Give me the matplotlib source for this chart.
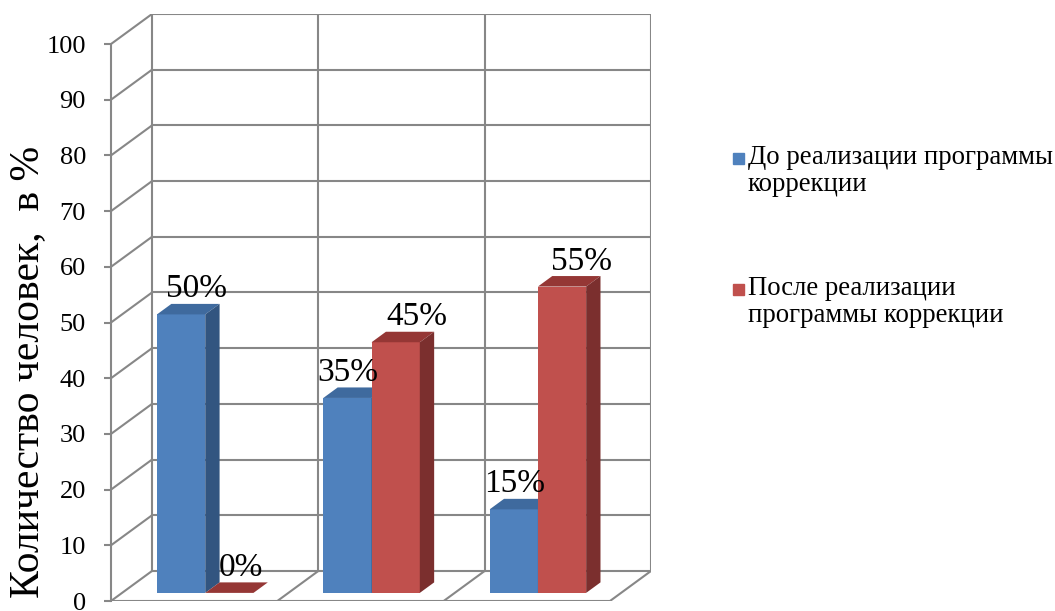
import matplotlib.pyplot as plt
from matplotlib.patches import Polygon, Rectangle

# данные
categories = ['1', '2', '3']
before = [50, 35, 15]
after = [0, 45, 55]
before_labels = ['50%', '35%', '15%']
after_labels = ['0%', '45%', '55%']
yticks = list(range(0, 101, 10))
series_names = ['До реализации программы\nкоррекции',
                'После реализации\nпрограммы коррекции']

plt.rcParams['font.family'] = ['Liberation Serif', 'DejaVu Serif']

# геометрия псевдо-3D (в единицах данных)
DX, DY = 0.2465, 5.39      # глубина стенки
F0, F1 = 0.27, 0.62        # передняя и задняя грань столбца (доля глубины)
W = 0.29                   # ширина столбца
grid_c = '#878787'

blue = ('#4F81BD', '#3F6A9E', '#325580')
red = ('#C0504D', '#953735', '#7B2F2E')

fig = plt.figure(figsize=(10.55, 6.11), dpi=100)
W_px, H_px = 1055, 611
ax = fig.add_axes([111 / W_px, 10 / H_px, 540 / W_px, 587 / H_px])
n = len(categories)
ax.set_xlim(0, n + DX)
ax.set_ylim(0, 100 + DY)

# стенки и сетка
for v in yticks:
    ax.plot([0, DX], [v, v + DY], color=grid_c, lw=1.5, zorder=1)
    ax.plot([DX, n + DX], [v + DY, v + DY], color=grid_c, lw=1.5, zorder=1)
for k in range(n + 1):
    ax.plot([k + DX, k + DX], [DY, 100 + DY], color=grid_c, lw=1.5, zorder=1)
    if k > 0:
        ax.plot([k, k + DX], [0, DY], color=grid_c, lw=1.5, zorder=1)
ax.plot([0, n], [0, 0], color=grid_c, lw=1.5, zorder=1)


def bar3d(x0, v, cols, label, dx_px):
    ax.bar(x0 + F0 * DX, v, width=W, bottom=F0 * DY, align='edge',
           color=cols[0], zorder=3)
    xa, xb = x0 + F0 * DX, x0 + W + F0 * DX
    xc, xd = x0 + F1 * DX, x0 + W + F1 * DX
    y0, y1 = F0 * DY, F1 * DY
    top = Polygon([(xa, v + y0), (xb, v + y0), (xd, v + y1), (xc, v + y1)],
                  closed=True, color=cols[1], lw=0, zorder=3)
    side = Polygon([(xb, y0), (xd, y1), (xd, v + y1), (xb, v + y0)],
                   closed=True, color=cols[2], lw=0, zorder=3)
    ax.add_patch(top)
    ax.add_patch(side)
    ax.annotate(label, (xa + W / 2, v + y0), xytext=(dx_px, 17),
                textcoords='offset pixels', ha='center', va='baseline',
                fontsize=24, zorder=5)


blue_dx = [15, 0, 1]
red_dx = [12, 21, 19]
for i in range(n):
    x0 = i + 0.5 - W
    bar3d(x0, before[i], blue, before_labels[i], blue_dx[i])
    bar3d(x0 + W, after[i], red, after_labels[i], red_dx[i])

# ось Y
for s in ['top', 'right', 'bottom']:
    ax.spines[s].set_visible(False)
ax.spines['left'].set_color(grid_c)
ax.spines['left'].set_linewidth(1.5)
ax.spines['left'].set_bounds(0, 100)
ax.set_yticks(yticks)
ax.set_xticks([])
ax.tick_params(axis='y', length=5, width=1.5, color=grid_c, pad=13,
               labelsize=19)

fig.text(28 / W_px, 1 - 372 / H_px, 'Количество человек,  в %',
         rotation=90, ha='center', va='center', fontsize=30)

# легенда
for name, c, yc in [(series_names[0], blue[0], 158), (series_names[1], red[0], 289)]:
    fig.patches.append(Rectangle((733 / W_px, 1 - (yc + 6) / H_px),
                                 11 / W_px, 11 / H_px, color=c,
                                 transform=fig.transFigure, figure=fig))
    fig.text(748 / W_px, 1 - (yc - 13) / H_px, name, ha='left', va='top',
             fontsize=19.3, linespacing=1.1)

fig.savefig('out.png', dpi=100)
